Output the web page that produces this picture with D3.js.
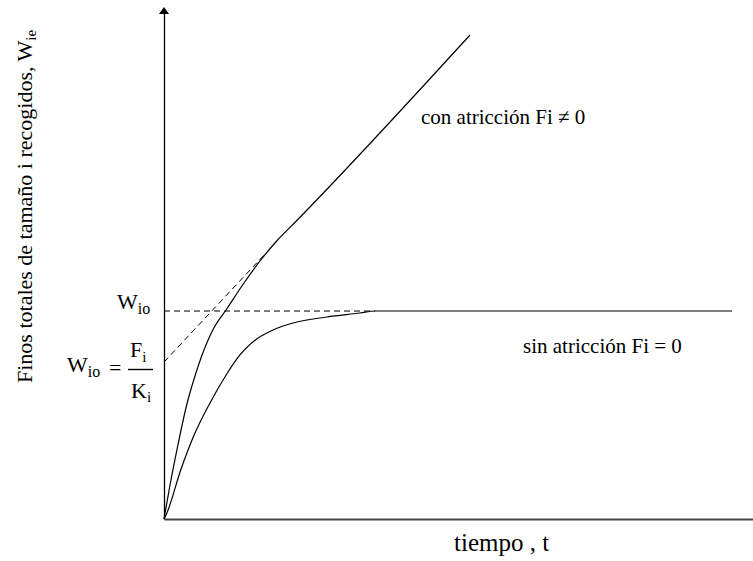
<!DOCTYPE html>
<html><head><meta charset="utf-8">
<script src="https://cdn.jsdelivr.net/npm/d3@7"></script>
<style>body{margin:0;background:#fff}svg{display:block}text{font-family:"Liberation Serif","Times New Roman",serif;fill:#000}</style>
</head><body>
<script>
// Data (abstract units)
const xDomain = [0, 100];
const yDomain = [0, 100];
const Wio = 40.86;          // saturation level W_io
const FiKi = 30.84;         // intercept F_i/K_i
const conAtriccion = [[0,0],[1.02,6.68],[2.43,14.93],[3.85,22.40],[5.26,28.09],[6.40,32.02],[8.37,37.33],[10.65,41.26],[13.46,46.17],[16.30,50.69],[19.13,54.62],[22.80,58.94],[51.95,95.09]];
const sinAtriccion = [[0,0],[0.46,1.1],[2.84,9.63],[4.97,16.11],[7.81,22.79],[10.65,28.49],[12.34,31.43],[15.74,35.36],[18.51,37.13],[21.90,38.51],[27.62,39.69],[33.28,40.47],[35.82,40.86],[96.43,40.86]];
const asymptote = [[0,FiKi],[17.0,51.87]];
const wioDashed = [[0,Wio],[35.82,Wio]];

const W = 753, H = 561;
const svg = d3.select("body").append("svg").attr("width", W).attr("height", H);
const x = d3.scaleLinear().domain(xDomain).range([164, 753]);
const y = d3.scaleLinear().domain(yDomain).range([519, 10]);

// axes (no ticks)
svg.append("g").attr("transform","translate(0,519)")
  .call(d3.axisBottom(x).tickValues([]).tickSizeOuter(0))
  .select(".domain").attr("stroke","#444").attr("stroke-width",2);
svg.append("g").attr("transform","translate(164,0)")
  .call(d3.axisLeft(y.copy().range([519, 13])).tickValues([]).tickSizeOuter(0))
  .select(".domain").attr("stroke","#000").attr("stroke-width",1.3);
// arrow head
svg.append("path").attr("d", `M164,7 L159,14 L169,14 Z`).attr("fill","#000");

const line = d3.line().x(d=>x(d[0])).y(d=>y(d[1]));
const smooth = d3.line().x(d=>x(d[0])).y(d=>y(d[1])).curve(d3.curveMonotoneX);

svg.append("path").attr("d", line(wioDashed)).attr("fill","none").attr("stroke","#000").attr("stroke-width",1).attr("stroke-dasharray","6,4");
svg.append("path").attr("d", line(asymptote)).attr("fill","none").attr("stroke","#000").attr("stroke-width",1).attr("stroke-dasharray","6,4");
svg.append("path").attr("d", smooth(conAtriccion)).attr("fill","none").attr("stroke","#000").attr("stroke-width",1.2);
svg.append("path").attr("d", smooth(sinAtriccion)).attr("fill","none").attr("stroke","#000").attr("stroke-width",1.2);

// labels
svg.append("text").attr("x",421).attr("y",124).attr("font-size",21).text("con atricción Fi ≠ 0");
svg.append("text").attr("x",523).attr("y",353).attr("font-size",21).text("sin atricción Fi = 0");
svg.append("text").attr("x",454).attr("y",551).attr("font-size",25).text("tiempo , t");

// y title
const yt = svg.append("text").attr("transform","translate(32,383) rotate(-90)").attr("font-size",22);
yt.append("tspan").text("Finos totales de tamaño i recogidos, W");
yt.append("tspan").attr("font-size",15).attr("dy",4).text("ie");

// W_io label
const w1 = svg.append("text").attr("x",117).attr("y",y(Wio)-2).attr("font-size",22);
w1.append("tspan").text("W");
w1.append("tspan").attr("font-size",16).attr("dy",5).text("io");

// W_io = F_i/K_i
const w2 = svg.append("text").attr("x",67).attr("y",372).attr("font-size",22);
w2.append("tspan").text("W");
w2.append("tspan").attr("font-size",16).attr("dy",5).text("io");
svg.append("text").attr("x",109).attr("y",375).attr("font-size",22).text("=");
svg.append("line").attr("x1",128).attr("x2",153).attr("y1",369.5).attr("y2",369.5).attr("stroke","#000").attr("stroke-width",1.4);
const f = svg.append("text").attr("x",130).attr("y",357).attr("font-size",22);
f.append("tspan").text("F");
f.append("tspan").attr("font-size",15).attr("dy",5).text("i");
const k = svg.append("text").attr("x",131).attr("y",398).attr("font-size",22);
k.append("tspan").text("K");
k.append("tspan").attr("font-size",15).attr("dy",4).text("i");
</script>
</body></html>
